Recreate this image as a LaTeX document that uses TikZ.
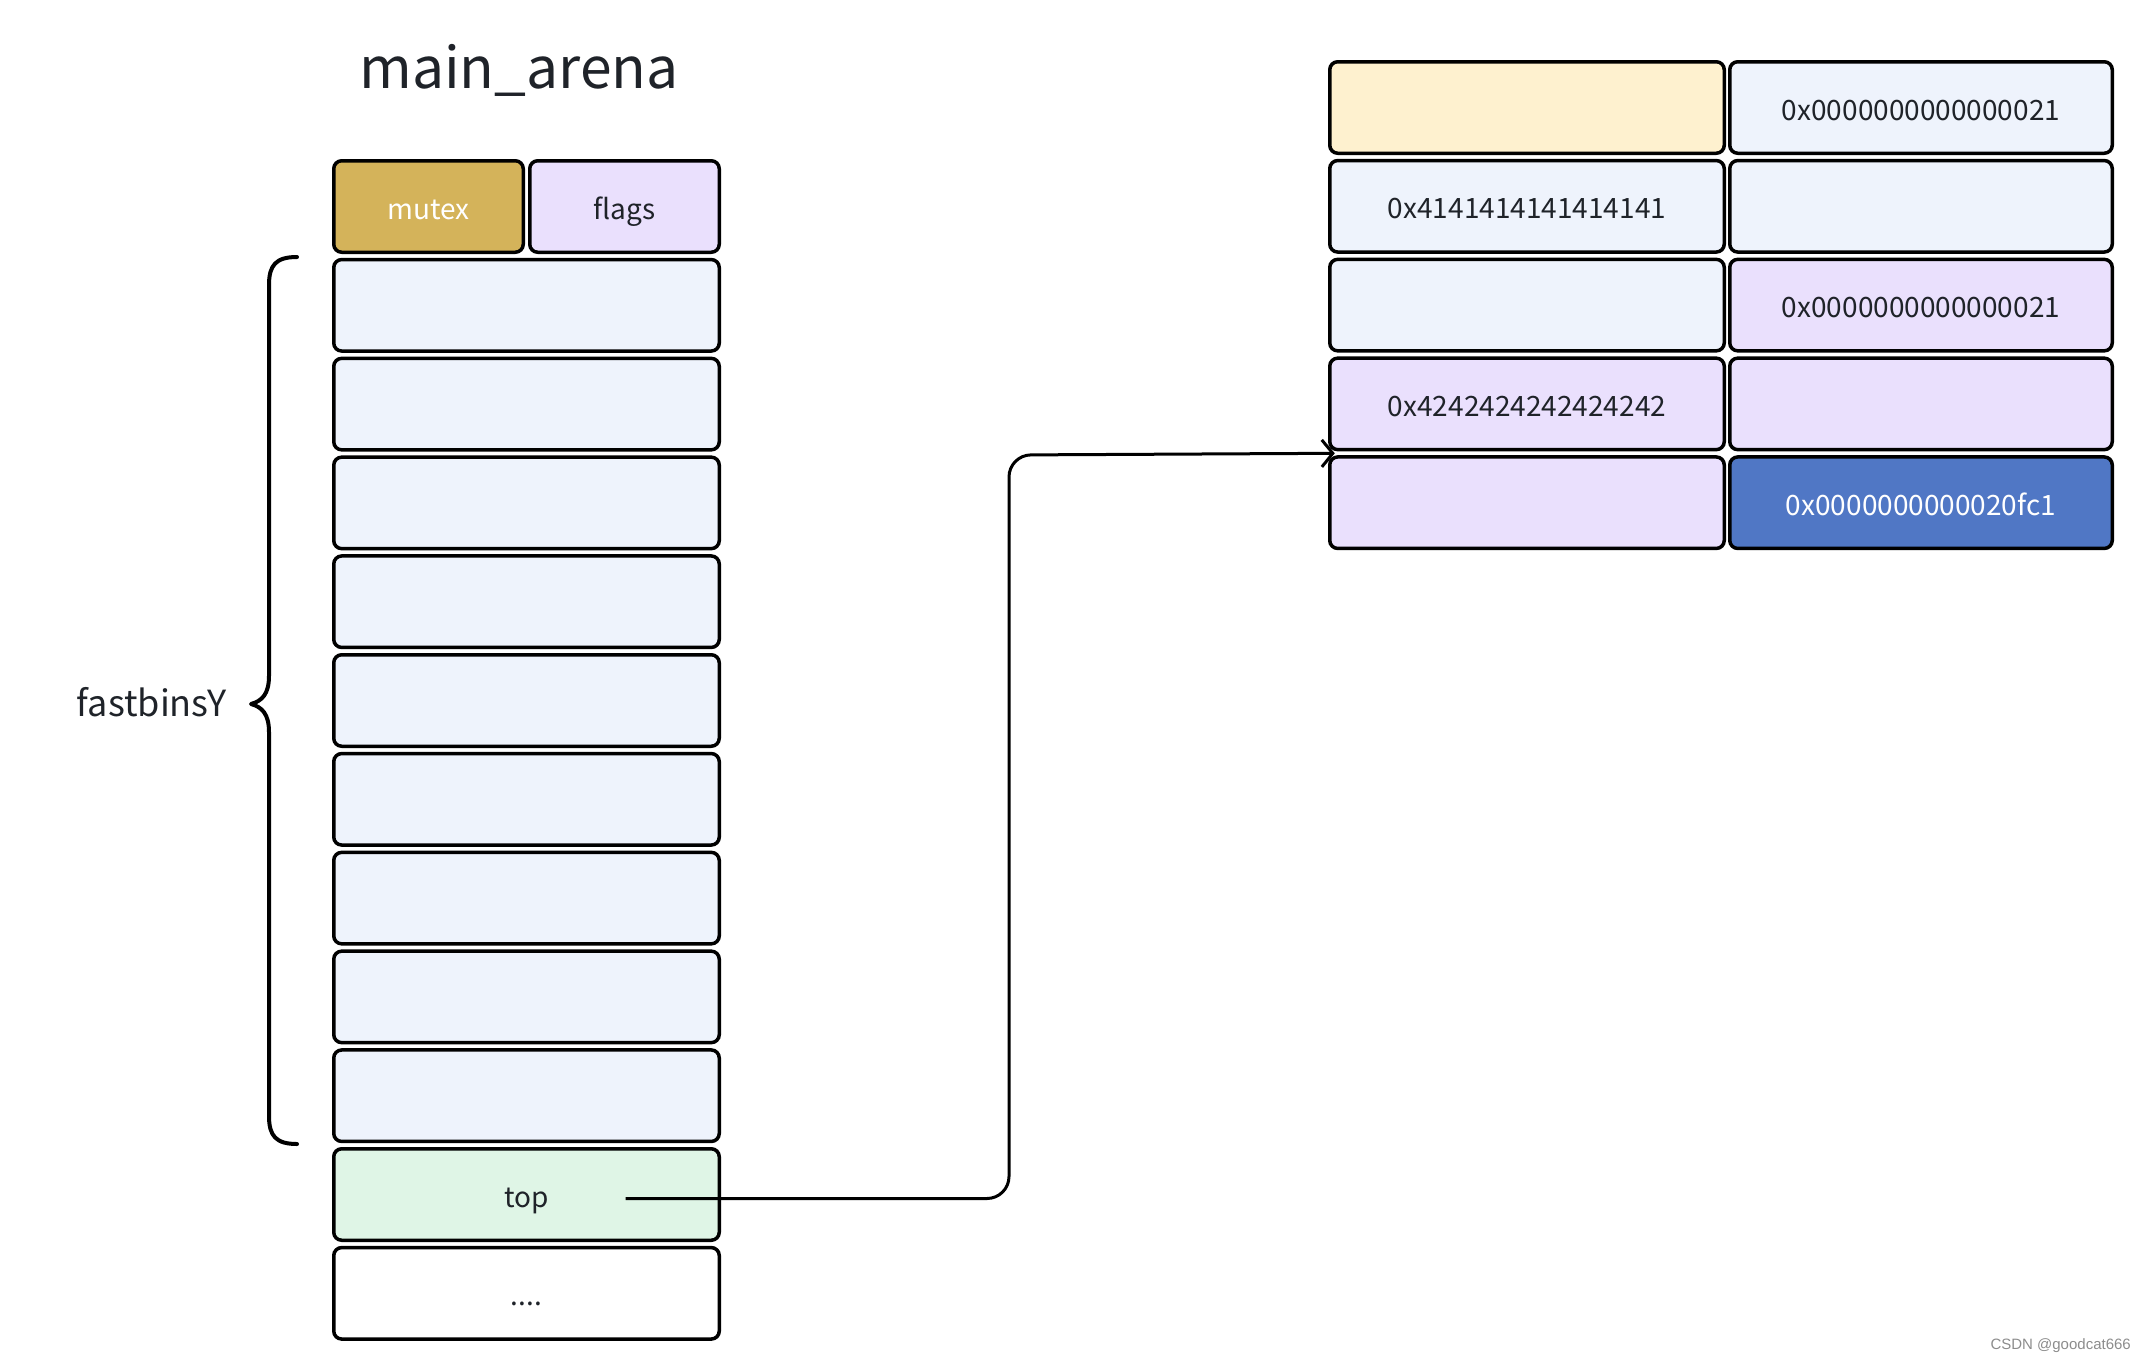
\documentclass[tikz,border=0pt]{standalone}
\usepackage{fontspec}
\setmainfont{Noto Sans CJK SC}
\newfontfamily\wmfont{Liberation Sans}
\usetikzlibrary{arrows.meta,calc}
\definecolor{txt}{HTML}{1F2329}
\definecolor{gold}{HTML}{D4B35A}
\definecolor{lav}{HTML}{EAE0FD}
\definecolor{ltblue}{HTML}{EEF3FC}
\definecolor{ltgreen}{HTML}{DFF5E6}
\definecolor{cream}{HTML}{FEF1CF}
\definecolor{dblue}{HTML}{5077C5}
\begin{document}
\begin{tikzpicture}[x=1pt,y=-1pt,
  cell/.style={draw=black, line width=3.5pt, rounded corners=8pt, inner sep=0pt, outer sep=0pt,
    minimum height=91.5pt, text=txt, font=\fontsize{28}{34}\selectfont,
    text height=29pt, text depth=4pt},
  lcell/.style={cell, minimum width=385.5pt},
  halfcell/.style={cell, minimum width=189.5pt},
  racell/.style={cell, minimum width=394.5pt},
  rbcell/.style={cell, minimum width=382.5pt},
  link/.style={line width=3pt, rounded corners=22pt, -{Straight Barb[length=11pt,width=27pt,line width=3pt]}},
  brace/.style={line width=4pt, line cap=round, line join=round},
  lbl/.style={text=txt, inner sep=0pt}
]
\useasboundingbox (0,0) rectangle (2144,1360);
% title
\node[lbl, anchor=base, font=\fontsize{57}{64}\selectfont] (title) at (519,88) {main\_arena};
% left column
\node[halfcell, fill=gold, text=white] (mutex) at (428.5,206.5) {mutex};
\node[halfcell, fill=lav] (flags) at (624.5,206.5) {flags};
\node[lcell, fill=ltblue] (f1) at (526.5,305.3) {};
\node[lcell, fill=ltblue] (f2) at (526.5,404.1) {};
\node[lcell, fill=ltblue] (f3) at (526.5,502.9) {};
\node[lcell, fill=ltblue] (f4) at (526.5,601.7) {};
\node[lcell, fill=ltblue] (f5) at (526.5,700.5) {};
\node[lcell, fill=ltblue] (f6) at (526.5,799.3) {};
\node[lcell, fill=ltblue] (f7) at (526.5,898.1) {};
\node[lcell, fill=ltblue] (f8) at (526.5,996.9) {};
\node[lcell, fill=ltblue] (f9) at (526.5,1095.7) {};
\node[lcell, fill=ltgreen] (top) at (526.5,1194.5) {top};
\node[lcell, fill=white] (more) at (526.5,1293.3) {....};
% brace
\draw[brace] (297,257) .. controls (276,257) and (269,265) .. (269,285)
  -- (269,676) .. controls (269,694) and (262,701) .. (251,704)
  .. controls (262,707) and (269,714) .. (269,732)
  -- (269,1116) .. controls (269,1136) and (276,1144) .. (297,1144);
\node[lbl, anchor=base, font=\fontsize{36}{42}\selectfont] (fb) at (152,716) {fastbinsY};
% right grid
\node[racell, fill=cream] (r1a) at (1527,107.5) {};
\node[rbcell, fill=ltblue] (r1b) at (1921,107.5) {0x0000000000000021};
\node[racell, fill=ltblue] (r2a) at (1527,206.3) {0x4141414141414141};
\node[rbcell, fill=ltblue] (r2b) at (1921,206.3) {};
\node[racell, fill=ltblue] (r3a) at (1527,305.1) {};
\node[rbcell, fill=lav] (r3b) at (1921,305.1) {0x0000000000000021};
\node[racell, fill=lav] (r4a) at (1527,403.9) {0x4242424242424242};
\node[rbcell, fill=lav] (r4b) at (1921,403.9) {};
\node[racell, fill=lav] (r5a) at (1527,502.7) {};
\node[rbcell, fill=dblue, text=white] (r5b) at (1921,502.7) {0x0000000000020fc1};
% connector
\coordinate (start) at ($(top.center)+(99,4)$);
\coordinate (endp) at ($(r4a.south west)!0.5!(r5a.north west)+(5,0)$);
\coordinate (turn) at (1009,455);
\draw[link] (start) -| (turn) -- (endp);
% watermark
\node[anchor=base east, inner sep=0pt, text=black!45, font=\wmfont\fontsize{15}{18}\selectfont] (wm) at (2131,1349) {CSDN @goodcat666};
\end{tikzpicture}
\end{document}
